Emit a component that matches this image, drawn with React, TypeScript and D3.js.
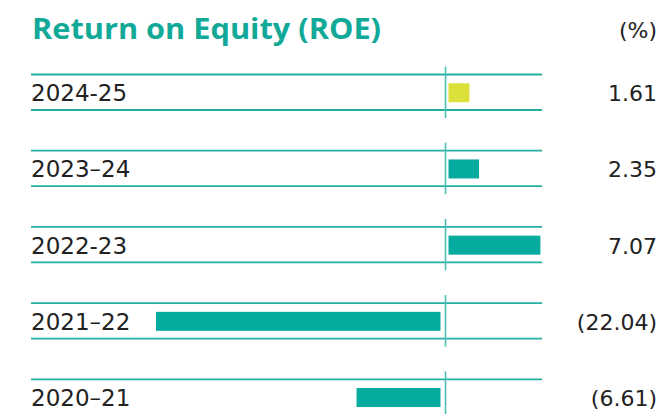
import React from "react";
import * as d3 from "d3";

const categories = ["2024-25", "2023–24", "2022-23", "2021–22", "2020–21"];
const roeValues = [1.61, 2.35, 7.07, -22.04, -6.61];
const valueLabels = ["1.61", "2.35", "7.07", "(22.04)", "(6.61)"];
const barColors = ["#dce03a", "#05ab9e", "#05ab9e", "#05ab9e", "#05ab9e"];
const titleText = "Return on Equity (ROE)";
const unitText = "(%)";

const W = 659;
const H = 414;

export default function App() {
  const zeroX = 444.5;
  const k = 13.0;
  const x = d3
    .scaleLinear()
    .domain([-22.04, 7.07])
    .range([zeroX - 22.04 * k, zeroX + 7.07 * k]);
  const gap = 4;

  const y = d3
    .scaleBand<string>()
    .domain(categories)
    .range([74.5, 74.5 + 76.2 * 5])
    .paddingInner(0)
    .paddingOuter(0);
  const rowH = 35.5;
  const barH = 19;
  const lineColor = "#22b0a1";
  const font = "'DejaVu Sans', sans-serif";

  return (
    <svg
      width={W}
      height={H}
      style={{ position: "absolute", left: 0, top: 0 }}
      viewBox={`0 0 ${W} ${H}`}
    >
      <rect x={0} y={0} width={W} height={H} fill="#ffffff" />
      <text
        x={32}
        y={38.5}
        fontFamily="'Open Sans', sans-serif"
        fontWeight={700}
        fontSize={29}
        fill="#13a998"
        textLength={349}
        lengthAdjust="spacingAndGlyphs"
      >
        {titleText}
      </text>
      <text
        x={657}
        y={38}
        textAnchor="end"
        fontFamily={font}
        fontSize={22}
        fill="#222222"
      >
        {unitText}
      </text>
      {categories.map((c, i) => {
        const top = y(c) as number;
        const bottom = top + rowH;
        const mid = (top + bottom) / 2;
        const v = roeValues[i];
        const x0 = v >= 0 ? x(0) + gap : x(v) - gap + 2;
        const x1 = v >= 0 ? x(v) + gap : x(0) - gap;
        return (
          <g key={c}>
            <line x1={31} x2={542} y1={top} y2={top} stroke={lineColor} strokeWidth={1.8} />
            <line x1={31} x2={542} y1={bottom} y2={bottom} stroke={lineColor} strokeWidth={1.8} />
            <line
              x1={x(0) + 1}
              x2={x(0) + 1}
              y1={top - 8}
              y2={bottom + 8}
              stroke="#4dbfb2"
              strokeWidth={1.6}
            />
            <rect
              x={x0}
              y={mid - barH / 2 + 0.5}
              width={x1 - x0}
              height={barH}
              fill={barColors[i]}
            />
            <text x={31} y={mid + 9} fontFamily={font} fontSize={23} fill="#222222">
              {c}
            </text>
            <text
              x={657}
              y={mid + 9}
              textAnchor="end"
              fontFamily={font}
              fontSize={22}
              fill="#222222"
            >
              {valueLabels[i]}
            </text>
          </g>
        );
      })}
    </svg>
  );
}
